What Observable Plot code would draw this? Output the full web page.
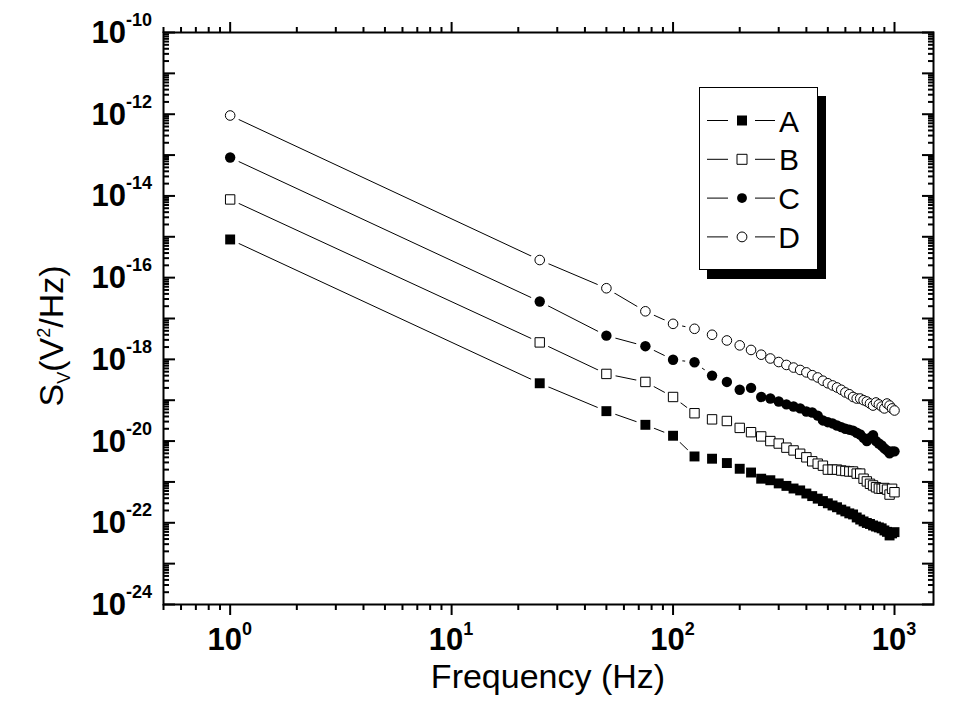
<!DOCTYPE html>
<html><head><meta charset="utf-8">
<script src="https://cdn.jsdelivr.net/npm/d3@7"></script>
<script src="https://cdn.jsdelivr.net/npm/@observablehq/plot@0.6"></script>
<style>
html,body{margin:0;padding:0;background:#fff;}
</style>
</head><body><div id="chart"></div>
<script>
// ---- data ----
const freq = [1, 25, 50, 75, 100, 125, 150, 175, 200, 225, 250, 275, 300, 325, 350, 375, 400, 425, 450, 475, 500, 525, 550, 575, 600, 625, 650, 675, 700, 725, 750, 775, 800, 825, 850, 875, 900, 925, 950, 975, 1000];
const seriesNames = ["A", "B", "C", "D"];
const seriesA = [8.6e-16, 2.6e-19, 5.4e-20, 2.5e-20, 1.35e-20, 4.2e-21, 3.7e-21, 2.9e-21, 2.1e-21, 1.7e-21, 1.2e-21, 1.1e-21, 9.2e-22, 8.0e-22, 6.9e-22, 6.2e-22, 5.2e-22, 4.5e-22, 3.9e-22, 3.4e-22, 3.0e-22, 2.65e-22, 2.4e-22, 2.1e-22, 1.9e-22, 1.7e-22, 1.6e-22, 1.35e-22, 1.2e-22, 1.08e-22, 9.9e-23, 9.35e-23, 8.6e-23, 8.1e-23, 7.7e-23, 7.3e-23, 6.5e-23, 6.0e-23, 4.9e-23, 5.5e-23, 5.9e-23];
const seriesB = [8.2e-15, 2.6e-18, 4.4e-19, 2.8e-19, 1.2e-19, 4.8e-20, 3.4e-20, 3.1e-20, 2.1e-20, 1.65e-20, 1.3e-20, 1.0e-20, 8.7e-21, 6.9e-21, 5.9e-21, 4.9e-21, 4.0e-21, 3.2e-21, 2.8e-21, 2.5e-21, 2.0e-21, 2.0e-21, 2.0e-21, 1.9e-21, 1.85e-21, 1.8e-21, 1.8e-21, 1.6e-21, 1.6e-21, 1.2e-21, 1.03e-21, 9.0e-22, 8.2e-22, 7.4e-22, 6.9e-22, 6.8e-22, 7.1e-22, 6.5e-22, 4.9e-22, 6.8e-22, 5.6e-22];
const seriesC = [8.7e-14, 2.6e-17, 3.8e-18, 2.1e-18, 9.8e-19, 8.5e-19, 4.0e-19, 2.8e-19, 1.8e-19, 2.0e-19, 1.2e-19, 1.1e-19, 9.3e-20, 7.9e-20, 7.0e-20, 6.3e-20, 5.3e-20, 5.0e-20, 4.2e-20, 3.2e-20, 2.9e-20, 2.7e-20, 2.4e-20, 2.2e-20, 2.0e-20, 1.9e-20, 1.8e-20, 1.6e-20, 1.45e-20, 1.2e-20, 1.0e-20, 1.2e-20, 1.4e-20, 1.0e-20, 8.7e-21, 7.8e-21, 6.6e-21, 5.9e-21, 5.0e-21, 5.6e-21, 5.6e-21];
const seriesD = [9.3e-13, 2.7e-16, 5.5e-17, 1.5e-17, 7.4e-18, 5.6e-18, 4.0e-18, 2.9e-18, 2.2e-18, 1.7e-18, 1.3e-18, 1.05e-18, 8.6e-19, 7.3e-19, 6.3e-19, 5.5e-19, 4.8e-19, 4.1e-19, 3.6e-19, 3.0e-19, 2.6e-19, 2.3e-19, 2.05e-19, 1.8e-19, 1.55e-19, 1.4e-19, 1.2e-19, 1.1e-19, 1.1e-19, 1.0e-19, 9.3e-20, 8.3e-20, 7.4e-20, 8.8e-20, 7.9e-20, 7.0e-20, 6.3e-20, 8.3e-20, 7.4e-20, 6.3e-20, 5.6e-20];
const xMajorTicks = [1, 10, 100, 1000];
const xTickExponents = ["0", "1", "2", "3"];
const yMajorTicks = [1e-24, 1e-23, 1e-22, 1e-21, 1e-20, 1e-19, 1e-18, 1e-17, 1e-16, 1e-15, 1e-14, 1e-13, 1e-12, 1e-11, 1e-10];
const yLabelTicks = [1e-24, 1e-22, 1e-20, 1e-18, 1e-16, 1e-14, 1e-12, 1e-10];
const yTickExponents = ["-24", "-22", "-20", "-18", "-16", "-14", "-12", "-10"];
const xTitle = "Frequency (Hz)";

// ---- build tables ----
const allSeries = [seriesA, seriesB, seriesC, seriesD];
const rows = allSeries.flatMap((s, i) => freq.map((f, j) => ({series: seriesNames[i], f, v: s[j]})));
const bySeries = name => rows.filter(d => d.series === name);

const xMinor = [];
for (const d of [0.1, 1, 10, 100]) for (let m = 2; m <= 9; m++) { const v = m * d; if (v >= 0.5 && v <= 1500) xMinor.push(v); }
const yMinor = [];
for (let k = -24; k < -10; k++) for (let m = 2; m <= 9; m++) yMinor.push(+(m + "e" + k));

const font = "'Liberation Sans', Arial, sans-serif";
const tickOpts = {strokeWidth: 2, fill: "none", label: null, color: "black"};

const markerStyle = {
  A: {symbol: "square", r: 5.6, fill: "black", stroke: "none"},
  B: {symbol: "square", r: 5.3, fill: "white", stroke: "black", strokeWidth: 1},
  C: {symbol: "circle", r: 5.2, fill: "black", stroke: "none"},
  D: {symbol: "circle", r: 4.8, fill: "white", stroke: "black", strokeWidth: 1}
};

const chart = Plot.plot({
  width: 960, height: 720,
  marginLeft: 163, marginRight: 27, marginTop: 32, marginBottom: 116,
  style: {fontFamily: font, background: "white", color: "black"},
  x: {type: "log", domain: [0.5, 1500], axis: null},
  y: {type: "log", domain: [1e-24, 1e-10], axis: null},
  marks: [
    Plot.axisX({anchor: "bottom", ticks: xMinor, tickSize: 6, ...tickOpts}),
    Plot.axisX({anchor: "bottom", ticks: xMajorTicks, tickSize: 11, ...tickOpts}),
    Plot.axisX({anchor: "top", ticks: xMinor, tickSize: 6, ...tickOpts}),
    Plot.axisX({anchor: "top", ticks: xMajorTicks, tickSize: 11, ...tickOpts}),
    Plot.axisY({anchor: "left", ticks: yMinor, tickSize: -6, ...tickOpts}),
    Plot.axisY({anchor: "left", ticks: yMajorTicks, tickSize: -12, ...tickOpts}),
    Plot.axisY({anchor: "right", ticks: yMinor, tickSize: -6, ...tickOpts}),
    Plot.axisY({anchor: "right", ticks: yMajorTicks, tickSize: -12, ...tickOpts}),
    Plot.line(rows, {x: "f", y: "v", z: "series", stroke: "black", strokeWidth: 1}),
    Plot.dot(rows, {x: "f", y: "v", r: 9.5, fill: "white"}),
    ...seriesNames.map(n => Plot.dot(bySeries(n), {x: "f", y: "v", ...markerStyle[n]})),
    Plot.frame({stroke: "black", strokeWidth: 2})
  ]
});
document.getElementById("chart").appendChild(chart);

// ---- tick labels with superscripts (positioned by Plot's scales) ----
const svg = d3.select(chart);
const xs = chart.scale("x"), ys = chart.scale("y");
const lab = svg.append("g").attr("font-family", font).attr("fill", "black");
xMajorTicks.forEach((v, i) => {
  const t = lab.append("text").attr("x", xs.apply(v)).attr("y", 650)
    .attr("text-anchor", "middle").attr("font-weight", "bold").attr("font-size", 31);
  t.append("tspan").text("10");
  t.append("tspan").attr("dy", -15).attr("font-size", 18).text(xTickExponents[i]);
});
yLabelTicks.forEach((v, i) => {
  const t = lab.append("text").attr("x", 152).attr("y", ys.apply(v) + 11)
    .attr("text-anchor", "end").attr("font-weight", "bold").attr("font-size", 31);
  t.append("tspan").text("10");
  t.append("tspan").attr("dy", -17).attr("font-size", 18).text(yTickExponents[i]);
});

// ---- axis titles ----
lab.append("text").attr("x", 548).attr("y", 688).attr("text-anchor", "middle")
  .attr("font-size", 34).text(xTitle);
const yt = lab.append("text").attr("transform", "translate(63,336) rotate(-90)")
  .attr("text-anchor", "middle").attr("font-size", 34);
yt.append("tspan").text("S");
yt.append("tspan").attr("dy", 7).attr("font-size", 18).text("V");
yt.append("tspan").attr("dy", -7).text("(V");
yt.append("tspan").attr("dy", -13).attr("font-size", 18).text("2");
yt.append("tspan").attr("dy", 13).text("/Hz)");

// ---- legend ----
const lg = svg.append("g").attr("font-family", font);
lg.append("rect").attr("x", 707).attr("y", 96).attr("width", 119).attr("height", 183).attr("fill", "black");
lg.append("rect").attr("x", 699.5).attr("y", 87.5).attr("width", 118).attr("height", 182)
  .attr("fill", "white").attr("stroke", "black").attr("stroke-width", 1);
const symType = {square: d3.symbolSquare, circle: d3.symbolCircle};
seriesNames.forEach((n, i) => {
  const cy = 120.5 + i * 38.8;
  const g = lg.append("g");
  g.append("line").attr("x1", 707).attr("x2", 728).attr("y1", cy).attr("y2", cy).attr("stroke", "black");
  g.append("line").attr("x1", 755).attr("x2", 775).attr("y1", cy).attr("y2", cy).attr("stroke", "black");
  const ms = markerStyle[n];
  const size = ms.symbol === "square" ? 100 : 76;
  g.append("path").attr("transform", `translate(742,${cy})`)
    .attr("d", d3.symbol().type(symType[ms.symbol]).size(size)())
    .attr("fill", ms.fill).attr("stroke", ms.stroke === "none" ? "none" : "black").attr("stroke-width", 1);
  g.append("text").attr("x", 789).attr("y", cy + 11).attr("font-size", 30).attr("fill", "black").text(n);
});
</script>
</body></html>
